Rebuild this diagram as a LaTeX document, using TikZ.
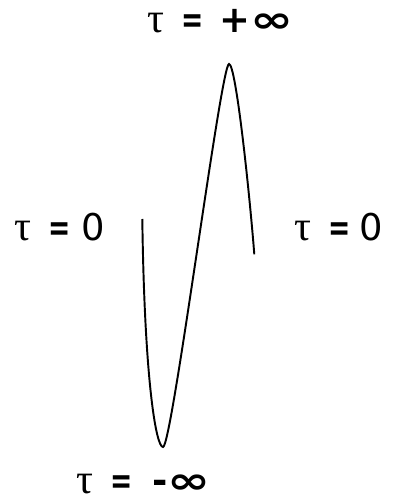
\documentclass[tikz,border=0pt]{standalone}
\usepackage{graphicx}
\usepackage{fontspec}
\setmainfont{DejaVu Sans}
\newfontfamily\taufont{Liberation Serif}

\begin{document}
\begin{tikzpicture}[x=0.02cm,y=-0.02cm]
   \useasboundingbox (0,0) rectangle (394,500);
   \tikzset{lbl/.style={anchor=base west,font=\fontsize{21}{24}\selectfont,inner sep=0pt,text depth=0pt}}
   % tau, gap, equals sign, gap given as #1
   \newcommand{\tauis}[1]{{\taufont\fontsize{24}{28}\selectfont τ}\hspace{10pt}\scalebox{0.72}[1]{\textbf{=}}\hspace{#1}}
   \newcommand{\infsym}{\scalebox{1.4}[1]{\textbf{∞}}}

   \coordinate (start) at (142.3,219);
   \coordinate (low) at (163,447);
   \coordinate (high) at (229,64);
   \coordinate (finish) at (254.3,254.3);
   \draw[line width=1.1pt] (start) .. controls (144.5,380) and (156,447) .. (low)
      .. controls (172,447) and (221,64) .. (high)
      .. controls (236,64) and (249.6,194) .. (finish);

   \node[lbl] (top) at (147,33) {\tauis{9pt}\textbf{+}\infsym};
   \node[lbl] (left) at (14,240) {\tauis{5.7pt}0};
   \node[lbl] (right) at (294,240) {\tauis{4.5pt}0};
   \node[lbl] (bottom) at (76,493) {\tauis{10.8pt}\textbf{-}\infsym};
\end{tikzpicture}
\end{document}
